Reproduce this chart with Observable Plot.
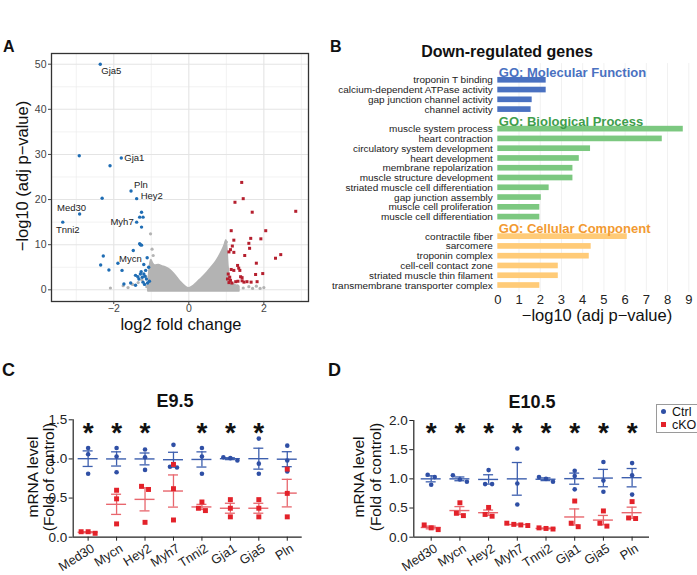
<!DOCTYPE html>
<html><head><meta charset="utf-8">
<script src="https://cdn.jsdelivr.net/npm/d3@7"></script>
<script src="https://cdn.jsdelivr.net/npm/@observablehq/plot@0.6"></script>
<style>
body{margin:0;background:#fff;}
#fig{position:relative;width:697px;height:575px;overflow:hidden;font-family:"Liberation Sans",Arial,sans-serif;background:#fff;color:#111;}
.abs{position:absolute;white-space:nowrap;line-height:1;}
</style></head><body><div id="fig"></div>
<script>
// ---------------- Panel A: volcano ----------------
const xMajor = [-2, 0, 2];
const xMinor = [-3, -1, 1, 3];
const yMajor = [0, 10, 20, 30, 40, 50];
const yMinor = [5, 15, 25, 35, 45];
const downPoints = [[-2.36,50.0],[-2.92,29.7],[-1.80,29.2],[-2.10,27.5],[-1.54,21.9],[-2.31,20.3],[-1.39,20.2],[-2.91,16.8],[-3.36,15.0],[-1.26,17.2],[-1.31,16.1],[-1.22,16.1],[-1.39,15.0],[-1.26,13.9],[-1.31,10.2],[-1.26,9.9],[-1.29,10.0],[-1.48,8.7],[-2.28,7.5],[-2.35,5.5],[-2.13,4.4],[-1.89,5.9],[-1.78,4.3],[-1.11,7.1],[-1.20,5.6],[-1.07,5.0],[-1.15,4.3],[-1.29,3.5],[-1.42,3.2],[-1.20,3.5],[-1.24,2.8],[-1.33,2.4],[-1.13,2.4],[-1.73,1.3],[-1.55,1.5],[-1.42,1.0],[-1.22,1.7],[-1.18,1.2],[-1.10,1.5],[-1.27,4.0],[-1.36,2.9],[-1.17,3.0],[-1.05,1.9]];
const upPoints = [[1.41,23.8],[1.45,20.2],[1.23,19.4],[1.69,17.2],[2.85,17.4],[2.05,13.1],[1.13,13.1],[1.92,11.3],[1.65,11.4],[1.20,11.0],[1.60,10.3],[1.16,9.7],[1.62,9.2],[1.11,8.9],[1.07,8.4],[1.20,8.3],[2.45,7.8],[2.31,7.0],[1.49,7.6],[1.80,5.9],[1.30,5.4],[1.33,4.8],[1.36,4.3],[1.13,4.5],[1.20,4.3],[1.97,3.6],[1.78,3.4],[1.38,2.9],[1.05,3.5],[1.09,2.8],[1.03,2.4],[1.11,2.1],[1.25,1.8],[1.31,1.9],[1.42,2.0],[1.47,1.7],[1.55,1.8],[1.66,1.7],[1.82,1.8],[1.42,2.7],[1.07,1.6],[1.15,1.5]];
// envelope of the dense grey (non-significant) cloud
const cloudX   = [-1.08,-1.04,-1.00,-0.95,-0.90,-0.80,-0.70,-0.60,-0.50,-0.40,-0.30,-0.20,-0.10,0.00,0.10,0.20,0.30,0.40,0.50,0.60,0.70,0.80,0.90,0.96,1.00,1.03,1.06,1.10,1.20,1.35];
const cloudTop = [0.6,5.0,6.6,5.8,5.4,5.5,5.2,4.9,4.4,3.6,2.6,1.6,0.8,0.35,0.7,1.4,2.2,3.0,3.9,4.9,5.9,7.2,8.8,10.0,11.0,9.0,5.0,2.5,1.2,0.7];
const greyPoints = [[-2.09,0.4],[-1.75,0.9],[-1.62,0.5],[-1.50,1.2],[-1.35,1.6],[-1.25,2.2],[-1.15,3.0],[-1.12,0.7],[-1.02,12.4],[-0.98,9.0],[-0.95,7.6],[1.15,0.6],[1.30,0.9],[1.45,0.4],[1.60,0.7],[1.70,0.3],[1.80,0.8],[1.90,0.3],[2.00,0.5],[1.0,10.6]];
const labelGenes = ["Gja5","Gja1","Pln","Hey2","Med30","Tnni2","Myh7","Mycn"];
const labelX = [-2.36,-1.80,-1.54,-1.39,-2.91,-3.36,-1.39,-1.20];
const labelY = [50.0,29.2,21.9,20.2,16.8,15.0,15.0,5.6];

// ---------------- Panel B: GO terms ----------------
const mfTerms = ["troponin T binding","calcium-dependent ATPase activity","gap junction channel activity","channel activity"];
const mfValues = [2.28,2.28,1.62,1.57];
const bpTerms = ["muscle system process","heart contraction","circulatory system development","heart development","membrane repolarization","muscle structure development","striated muscle cell differentiation","gap junction assembly","muscle cell proliferation","muscle cell differentiation"];
const bpValues = [8.74,7.75,4.37,3.84,3.54,3.54,2.42,2.05,1.98,1.98];
const ccTerms = ["contractile fiber","sarcomere","troponin complex","cell-cell contact zone","striated muscle thin filament","transmembrane transporter complex"];
const ccValues = [6.10,4.40,4.31,2.85,2.85,1.98];
const goHeaders = ["GO: Molecular Function","GO: Biological Process","GO: Cellular Component"];
const goTicks = [0,1,2,3,4,5,6,7,8,9];

// ---------------- Panels C, D: qPCR ----------------
const genes = ["Med30","Mycn","Hey2","Myh7","Tnni2","Gja1","Gja5","Pln"];
const ctrlE95 = [[1.14,1.06,0.81],[1.14,1.03,0.83],[1.12,1.02,0.86],[1.18,0.90,0.89],[1.14,1.03,0.81],[1.01,1.02,0.98],[1.26,0.94,0.81],[1.17,0.98,0.84]];
const ckoE95  = [[0.05,0.07,0.07],[0.60,0.49,0.17],[0.65,0.61,0.19],[0.93,0.62,0.22],[0.34,0.45,0.37],[0.48,0.37,0.26],[0.48,0.37,0.26],[0.87,0.56,0.26]];
const sigE95 = ["Med30","Mycn","Hey2","Tnni2","Gja1","Gja5"];
const ctrlE105 = [[1.07,1.03,0.90],[1.06,0.99,0.95],[1.15,0.91,0.91],[1.52,0.92,0.56],[1.00,0.95,1.03],[1.14,1.05,0.82],[1.29,0.97,0.78],[1.27,1.06,0.73]];
const ckoE105  = [[0.21,0.13,0.16],[0.59,0.37,0.41],[0.51,0.36,0.39],[0.20,0.24,0.22,0.21],[0.14,0.16,0.15],[0.62,0.18,0.24],[0.45,0.19,0.24],[0.61,0.32,0.33]];
const sigE105 = ["Med30","Mycn","Hey2","Myh7","Tnni2","Gja1","Gja5","Pln"];
const yTicksE95 = [0, 0.5, 1.0, 1.5];
const yTicksE105 = [0, 0.5, 1.0, 1.5, 2.0];

// ================= rendering =================
const FONT = "'Liberation Sans', Arial, Helvetica, sans-serif";
const fig = document.getElementById("fig");
function place(node, left, top) {
  node.style.position = "absolute"; node.style.left = left + "px"; node.style.top = top + "px";
  fig.appendChild(node);
}
function addText(txt, x, y, o = {}) {
  const d = document.createElement("div");
  d.className = "abs";
  if (o.html) d.innerHTML = txt; else d.textContent = txt;
  d.style.left = x + "px"; d.style.top = y + "px";
  d.style.fontSize = (o.size || 12) + "px";
  if (o.lh) { d.style.lineHeight = o.lh + "px"; d.style.textAlign = "center"; }
  d.style.fontWeight = o.weight || "normal";
  d.style.color = o.color || "#111";
  const tx = o.anchor === "start" ? "0" : o.anchor === "end" ? "-100%" : "-50%";
  d.style.transform = `translate(${tx},-50%)` + (o.rotate ? ` rotate(${o.rotate}deg)` : "");
  fig.appendChild(d);
  return d;
}
const minusFmt = d => d < 0 ? "\u2212" + (-d) : String(d);

// ---- Panel A ----
const toXY = p => ({x: p[0], y: p[1]});
const labelStyle = {
  Gja5: {anchor: "start", dx: 1, dy: 7}, Gja1: {anchor: "start", dx: 3, dy: 0},
  Pln: {anchor: "start", dx: 3, dy: -6}, Hey2: {anchor: "start", dx: 4, dy: -3},
  Med30: {anchor: "middle", dx: -8, dy: -6}, Tnni2: {anchor: "middle", dx: 5, dy: 8},
  Myh7: {anchor: "end", dx: -3, dy: 0}, Mycn: {anchor: "end", dx: -2, dy: -6}
};
const volcano = Plot.plot({
  width: 320, height: 335,
  marginLeft: 51, marginRight: 12, marginTop: 53, marginBottom: 34,
  x: {domain: [-3.66, 3.19]},
  y: {domain: [-2.59, 52.37]},
  style: {fontFamily: FONT, background: "transparent", overflow: "visible"},
  marks: [
    Plot.ruleX(xMinor, {stroke: "#ececec", strokeWidth: 0.7}),
    Plot.ruleY(yMinor, {stroke: "#ececec", strokeWidth: 0.7}),
    Plot.ruleX(xMajor, {stroke: "#e4e4e4", strokeWidth: 1.1}),
    Plot.ruleY(yMajor, {stroke: "#e4e4e4", strokeWidth: 1.1}),
    Plot.areaY(cloudX.map((x, i) => ({x, top: cloudTop[i]})), {x: "x", y1: -0.4, y2: "top", fill: "#b3b3b3", stroke: "#b3b3b3", strokeWidth: 1.5, curve: "catmull-rom"}),
    Plot.dot(greyPoints.map(toXY), {x: "x", y: "y", r: 1.6, fill: "#b3b3b3"}),
    Plot.dot(downPoints.map(toXY), {x: "x", y: "y", r: 1.7, fill: "#1f6db4"}),
    Plot.dot(upPoints.map(toXY), {x: "x", y: "y", r: 1.7, fill: "#b51f2e", symbol: "square"}),
    ...labelGenes.map((g, i) => Plot.text([g], {
      x: () => labelX[i], y: () => labelY[i], text: d => d,
      textAnchor: labelStyle[g].anchor, dx: labelStyle[g].dx, dy: labelStyle[g].dy,
      fontSize: 9.5, fill: "#222"
    })),
    Plot.frame({stroke: "#333", strokeWidth: 1.3}),
    Plot.axisX({ticks: xMajor, tickFormat: minusFmt, tickSize: 3, tickPadding: 0, fontSize: 10.5, color: "#444", label: null}),
    Plot.axisY({ticks: yMajor, tickFormat: minusFmt, tickSize: 3, tickPadding: 2, fontSize: 10.5, color: "#444", label: null})
  ]
});
place(volcano, 0, 0);
addText("log2 fold change", 181, 324, {size: 16.5});
addText("\u2212log10 (adj p\u2212value)", 22, 176, {size: 16.5, rotate: -90});
addText("A", 3, 47, {size: 16, weight: "bold", anchor: "start"});

// ---- Panel B ----
const goColors = {mf: "#4a71c1", bp: "#7cc880", cc: "#ffcb78"};
const goTextColors = {mf: "#4a71c1", bp: "#3f9e4c", cc: "#f29a31"};
const goRows = [
  ...mfTerms.map((t, i) => ({term: t, v: mfValues[i], g: "mf"})),
  ...bpTerms.map((t, i) => ({term: t, v: bpValues[i], g: "bp"})),
  ...ccTerms.map((t, i) => ({term: t, v: ccValues[i], g: "cc"}))
];
const goDomain = [goHeaders[0], ...mfTerms, goHeaders[1], ...bpTerms, goHeaders[2], ...ccTerms];
const headerRows = [{term: goHeaders[0], g: "mf"}, {term: goHeaders[1], g: "bp"}, {term: goHeaders[2], g: "cc"}];
const goPlot = Plot.plot({
  width: 397, height: 330,
  marginLeft: 197.3, marginRight: 8.7, marginTop: 63.06, marginBottom: 38.05,
  x: {domain: [0, 9]},
  y: {type: "band", domain: goDomain, padding: 0.42, round: false},
  style: {fontFamily: FONT, background: "transparent", overflow: "visible"},
  marks: [
    Plot.ruleX(goTicks.slice(1), {stroke: "#f1f1f1", strokeWidth: 1}),
    ...["mf", "bp", "cc"].map(g => Plot.barX(goRows.filter(d => d.g === g), {x: "v", y: "term", fill: goColors[g]})),
    Plot.axisY({tickSize: 0, tickPadding: 5, fontSize: 9.6, color: "#222", label: null,
      tickFormat: d => goHeaders.includes(d) ? "" : d}),
    ...headerRows.map(h => Plot.text([h], {x: () => 0, y: "term", text: "term", textAnchor: "start", dx: 1, dy: 2,
      fontSize: 13, fontWeight: "bold", fill: goTextColors[h.g]})),
    Plot.axisX({ticks: goTicks, tickSize: 0, tickPadding: 2, fontSize: 13, color: "#222", label: null})
  ]
});
place(goPlot, 300, 0);
// term labels stretched slightly to the original's width
goPlot.querySelectorAll('g[aria-label="y-axis tick label"] text').forEach(t => {
  const L = t.getComputedTextLength();
  if (L > 0) { t.setAttribute("textLength", (L * 1.04).toFixed(1)); t.setAttribute("lengthAdjust", "spacingAndGlyphs"); }
});
addText("Down-regulated genes", 507, 52, {size: 16, weight: "bold"});
addText("\u2212log10 (adj p\u2212value)", 597, 315, {size: 16.5});
addText("B", 330, 47, {size: 16, weight: "bold", anchor: "start"});

// ---- Panels C & D ----
const BLUE = "#2f4fa5", BLUE_LINE = "#3d5fae", RED = "#e3222a", RED_LINE = "#e8666d";
function spread(vals, pxY, pxX, step = 7, thr = 5) {
  const idx = vals.map((v, i) => i).sort((a, b) => vals[b] - vals[a]);
  const clusters = [];
  let cur = [idx[0]];
  for (let k = 1; k < idx.length; k++) {
    if ((vals[cur[cur.length - 1]] - vals[idx[k]]) * pxY < thr) cur.push(idx[k]);
    else { clusters.push(cur); cur = [idx[k]]; }
  }
  clusters.push(cur);
  const off = new Array(vals.length);
  for (const c of clusters) c.forEach((i, j) => off[i] = (j - (c.length - 1) / 2) * step / pxX);
  return off;
}
function qpcr({ctrl, cko, sig, yMax, yTicks, pad, width, height, ml, mr, mt, mb}) {
  const xDom = [-pad, genes.length - 1 + pad];
  const pxX = (width - ml - mr) / (xDom[1] - xDom[0]);
  const pxY = (height - mt - mb) / yMax;
  const pts = (arr) => arr.flatMap((vals, gi) => {
    const off = spread(vals, pxY, pxX);
    return vals.map((v, k) => ({x: gi + off[k], y: v}));
  });
  const stats = (arr) => arr.map((vals, gi) => {
    const m = d3.mean(vals), s = d3.deviation(vals) / Math.sqrt(vals.length);
    return {i: gi, mean: m, lo: m - s, hi: m + s};
  });
  const hw = 10 / pxX, cw = 5 / pxX;
  const errMarks = (st, color) => [
    Plot.ruleX(st, {x: "i", y1: "lo", y2: "hi", stroke: color, strokeWidth: 1.3}),
    Plot.ruleY(st, {y: "mean", x1: d => d.i - hw, x2: d => d.i + hw, stroke: color, strokeWidth: 1.4}),
    Plot.ruleY(st, {y: "lo", x1: d => d.i - cw, x2: d => d.i + cw, stroke: color, strokeWidth: 1.3}),
    Plot.ruleY(st, {y: "hi", x1: d => d.i - cw, x2: d => d.i + cw, stroke: color, strokeWidth: 1.3})
  ];
  const geneIdx = d3.range(genes.length);
  return Plot.plot({
    width, height, marginLeft: ml, marginRight: mr, marginTop: mt, marginBottom: mb,
    x: {domain: xDom}, y: {domain: [0, yMax]},
    style: {fontFamily: FONT, background: "transparent", overflow: "visible"},
    marks: [
      Plot.ruleX([xDom[0]], {stroke: "#222", strokeWidth: 1.2}),
      Plot.ruleY([0], {stroke: "#222", strokeWidth: 1.2}),
      ...errMarks(stats(ctrl), BLUE_LINE),
      ...errMarks(stats(cko), RED_LINE),
      Plot.dot(pts(ctrl), {x: "x", y: "y", r: 2.3, fill: BLUE}),
      Plot.dot(pts(cko), {x: "x", y: "y", r: 2.8, symbol: "square", fill: RED}),
      Plot.text(sig, {x: d => genes.indexOf(d), text: () => "*", frameAnchor: "top", dy: 2, fontSize: 28, fontWeight: "bold", fill: "#111"}),
      Plot.axisY({ticks: yTicks, tickFormat: d3.format(".1f"), tickSize: 4, tickPadding: 2, fontSize: 13.5, color: "#222", label: null}),
      Plot.axisX({ticks: geneIdx, tickFormat: () => "", tickSize: 4, color: "#222", label: null}),
      Plot.axisX({ticks: geneIdx, tickFormat: i => genes[i], tickRotate: -32, tickSize: 0, tickPadding: 4, dx: 5, dy: 6, fontSize: 12.8, color: "#222", label: null})
    ]
  });
}
const pC = qpcr({ctrl: ctrlE95, cko: ckoE95, sig: sigE95, yMax: 1.5, yTicks: yTicksE95, pad: 0.525,
  width: 320, height: 195, ml: 72.7, mr: 18.3, mt: 39.3, mb: 38.3});
place(pC, 0, 380);
const pD = qpcr({ctrl: ctrlE105, cko: ckoE105, sig: sigE105, yMax: 2.0, yTicks: yTicksE105, pad: 0.606,
  width: 320, height: 195, ml: 73.3, mr: 11, mt: 40, mb: 38.3});
place(pD, 340, 380);

addText("C", 2, 370, {size: 18, weight: "bold", anchor: "start"});
addText("D", 328, 370, {size: 18, weight: "bold", anchor: "start"});
addText("E9.5", 175, 401, {size: 18, weight: "bold"});
addText("E10.5", 532, 402, {size: 18, weight: "bold"});
addText("mRNA level<br>(Fold of control)", 40, 477, {html: true, size: 15.5, lh: 15.5, rotate: -90});
addText("mRNA level<br>(Fold of control)", 367, 477, {html: true, size: 15.5, lh: 16.5, rotate: -90});

// legend for panel D
const leg = document.createElement("div");
leg.style.cssText = "position:absolute;left:656px;top:404px;width:48px;height:27px;border:1px solid #9a9a9a;background:#fff;font-size:12.5px;line-height:1;";
leg.innerHTML = `<div style="position:absolute;left:4px;top:4px;width:5px;height:5px;border-radius:50%;background:${BLUE}"></div>
<div style="position:absolute;left:15px;top:1px;">Ctrl</div>
<div style="position:absolute;left:4px;top:17px;width:5px;height:5px;background:${RED}"></div>
<div style="position:absolute;left:15px;top:14px;">cKO</div>`;
fig.appendChild(leg);
</script></body></html>
